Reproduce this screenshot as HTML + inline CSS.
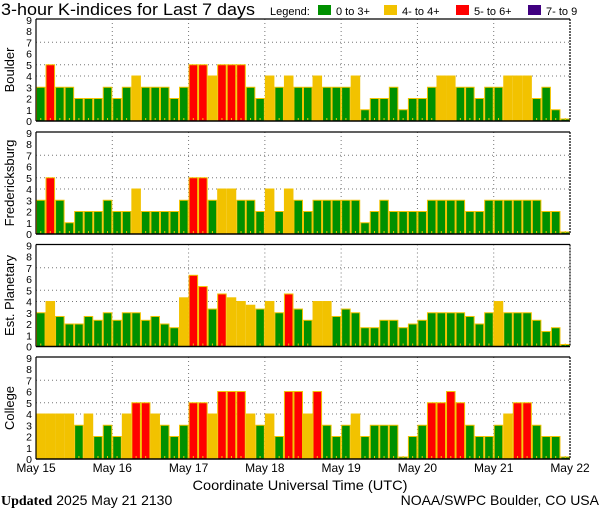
<!DOCTYPE html>
<html><head><meta charset="utf-8"><style>
html,body{margin:0;padding:0;background:#fff;width:600px;height:510px;overflow:hidden}
svg{display:block;font-family:"Liberation Sans",sans-serif}
</style></head><body>
<svg id="chart" width="600" height="510" viewBox="0 0 600 510"></svg>
<script>
const days=["May 15","May 16","May 17","May 18","May 19","May 20","May 21","May 22"];
const stations=["Boulder","Fredericksburg","Est. Planetary","College"];
const yTicks=[0,1,2,3,4,5,6,7,8,9];
const gridLevels=[4,5,7];
const boulder=[3,5,3,3,2,2,2,3, 2,3,4,3,3,3,2,3, 5,5,4,5,5,5,3,2, 4,3,4,3,3,4,3,3, 3,4,1,2,2,3,1,2, 2,3,4,4,3,3,2,3, 3,4,4,4,2,3,1,0];
const fredericksburg=[3,5,3,1,2,2,2,3, 2,2,4,2,2,2,2,3, 5,5,3,4,4,3,3,2, 4,2,4,3,2,3,3,3, 3,3,1,2,3,2,2,2, 2,3,3,3,3,2,2,3, 3,3,3,3,3,2,2,0];
const planetary=[3,4,2.67,2,2,2.67,2.33,3, 2.33,3,3,2.33,2.67,2,1.67,4.33, 6.33,5.33,3.33,4.67,4.33,4,3.67,3.33, 4,3,4.67,3.33,2.33,4,4,2.67, 3.33,3,1.67,1.67,2.33,2.33,1.67,2, 2.33,3,3,3,3,2.67,2,3, 4,3,3,3,2.33,1.33,1.67,0];
const college=[4,4,4,4,3,4,2,3, 2,4,5,5,4,3,2,3, 5,5,4,6,6,6,4,3, 4,2,6,6,4,6,3,2, 3,4,2,3,3,3,0,2, 3,5,5,6,5,3,2,2, 3,4,5,5,3,2,2,0];
const series=[boulder,fredericksburg,planetary,college];

const NS="http://www.w3.org/2000/svg";
const svg=document.getElementById('chart');
function mk(tag,attrs,parent){const e=document.createElementNS(NS,tag);for(const k in attrs)e.setAttribute(k,attrs[k]);(parent||svg).appendChild(e);return e;}
const X0=36,X1=570,PH=102,UNIT=PH/9.07;
const tops=[19,132,244.5,357];
const nBars=56;
const bw=(X1-X0)/nBars;
function xScale(i){return X0+i*bw;}
function colorFor(v){if(v>=6.66)return"#400080";if(v>=4.66)return"#ff0000";if(v>=3.66)return"#f2c200";return"#009000";}

// title & legend
let t=mk('text',{x:1,y:15,'font-size':17,textLength:254,lengthAdjust:'spacingAndGlyphs'});t.textContent="3-hour K-indices for Last 7 days";


t=mk('text',{x:270,y:15,'font-size':11});t.textContent="Legend:";


const legItems=[["0 to 3+","#009000",318],["4- to 4+","#f2c200",384],["5- to 6+","#ff0000",456],["7- to 9","#400080",528]];
legItems.forEach(li=>{
  const g=mk('g',{});
  
  
  mk('rect',{x:li[2],y:5,width:13,height:10,fill:li[1]},g);
  const tt=mk('text',{x:li[2]+18,y:15,'font-size':11},g);tt.textContent=li[0];
});

stations.forEach((name,si)=>{
  const top=tops[si],base=top+PH;
  const yS=v=>base-v*UNIT;
  const g=mk('g',{});
  
  
  // grid
  gridLevels.forEach(lv=>{const l=mk('line',{x1:X0,x2:X1,y1:yS(lv),y2:yS(lv),stroke:'#777','stroke-dasharray':'1,3'},g);
    
    });
  for(let d=1;d<7;d++){const x=xScale(d*8);const l=mk('line',{x1:x,x2:x,y1:top,y2:base,stroke:'#777','stroke-dasharray':'1,3'},g);
    
    }
  // bars
  series[si].forEach((v,i)=>{
    const x=xScale(i);
    const h=Math.max(v*UNIT,2);
    const r=mk('rect',{x:x+0.5,y:base-h,width:bw-1,height:h,fill:colorFor(v),stroke:'#f2c200','stroke-width':1},g);
    
    
    mk('rect',{x:x+bw/2-0.5,y:base-3,width:1,height:2,fill:'#f2c200'},g);
  });
  // frame
  mk('line',{x1:X0,x2:X1,y1:top,y2:top,stroke:'#000','stroke-width':1.2},g);
  mk('line',{x1:X0,x2:X1,y1:base,y2:base,stroke:'#000','stroke-width':1.5},g);
  mk('line',{x1:X0,x2:X0,y1:top,y2:base,stroke:'#000','stroke-width':1.2},g);
  mk('line',{x1:X1,x2:X1,y1:top,y2:base,stroke:'#000','stroke-width':1.2,'stroke-dasharray':'2,1'},g);
  // y ticks
  yTicks.forEach(v=>{const tl=mk('text',{x:32,y:yS(v)+4,'font-size':10.5,'text-anchor':'end'},g);tl.textContent=v;
    
    });
  const cy=top+PH/2;
  const lab=mk('text',{x:0,y:0,'font-size':13,'text-anchor':'middle',transform:`translate(14,${cy}) rotate(-90)`},g);
  lab.textContent=name;
  
  
});

days.forEach((d,i)=>{const tx=mk('text',{x:X0+i*8*bw,y:472,'font-size':12,'text-anchor':'middle'});tx.textContent=d;
  
  });
t=mk('text',{x:300,y:490,'font-size':14,'text-anchor':'middle',textLength:215,lengthAdjust:'spacingAndGlyphs'});t.textContent="Coordinate Universal Time (UTC)";


t=mk('text',{x:1,y:505,'font-size':14});


const b=mk('tspan',{'font-weight':'bold','font-family':'Liberation Serif, serif'},t);b.textContent="Updated";
const s=mk('tspan',{},t);s.textContent=" 2025 May 21 2130";
t=mk('text',{x:599,y:505,'font-size':14,'text-anchor':'end'});t.textContent="NOAA/SWPC Boulder, CO USA";


</script>
</body></html>
